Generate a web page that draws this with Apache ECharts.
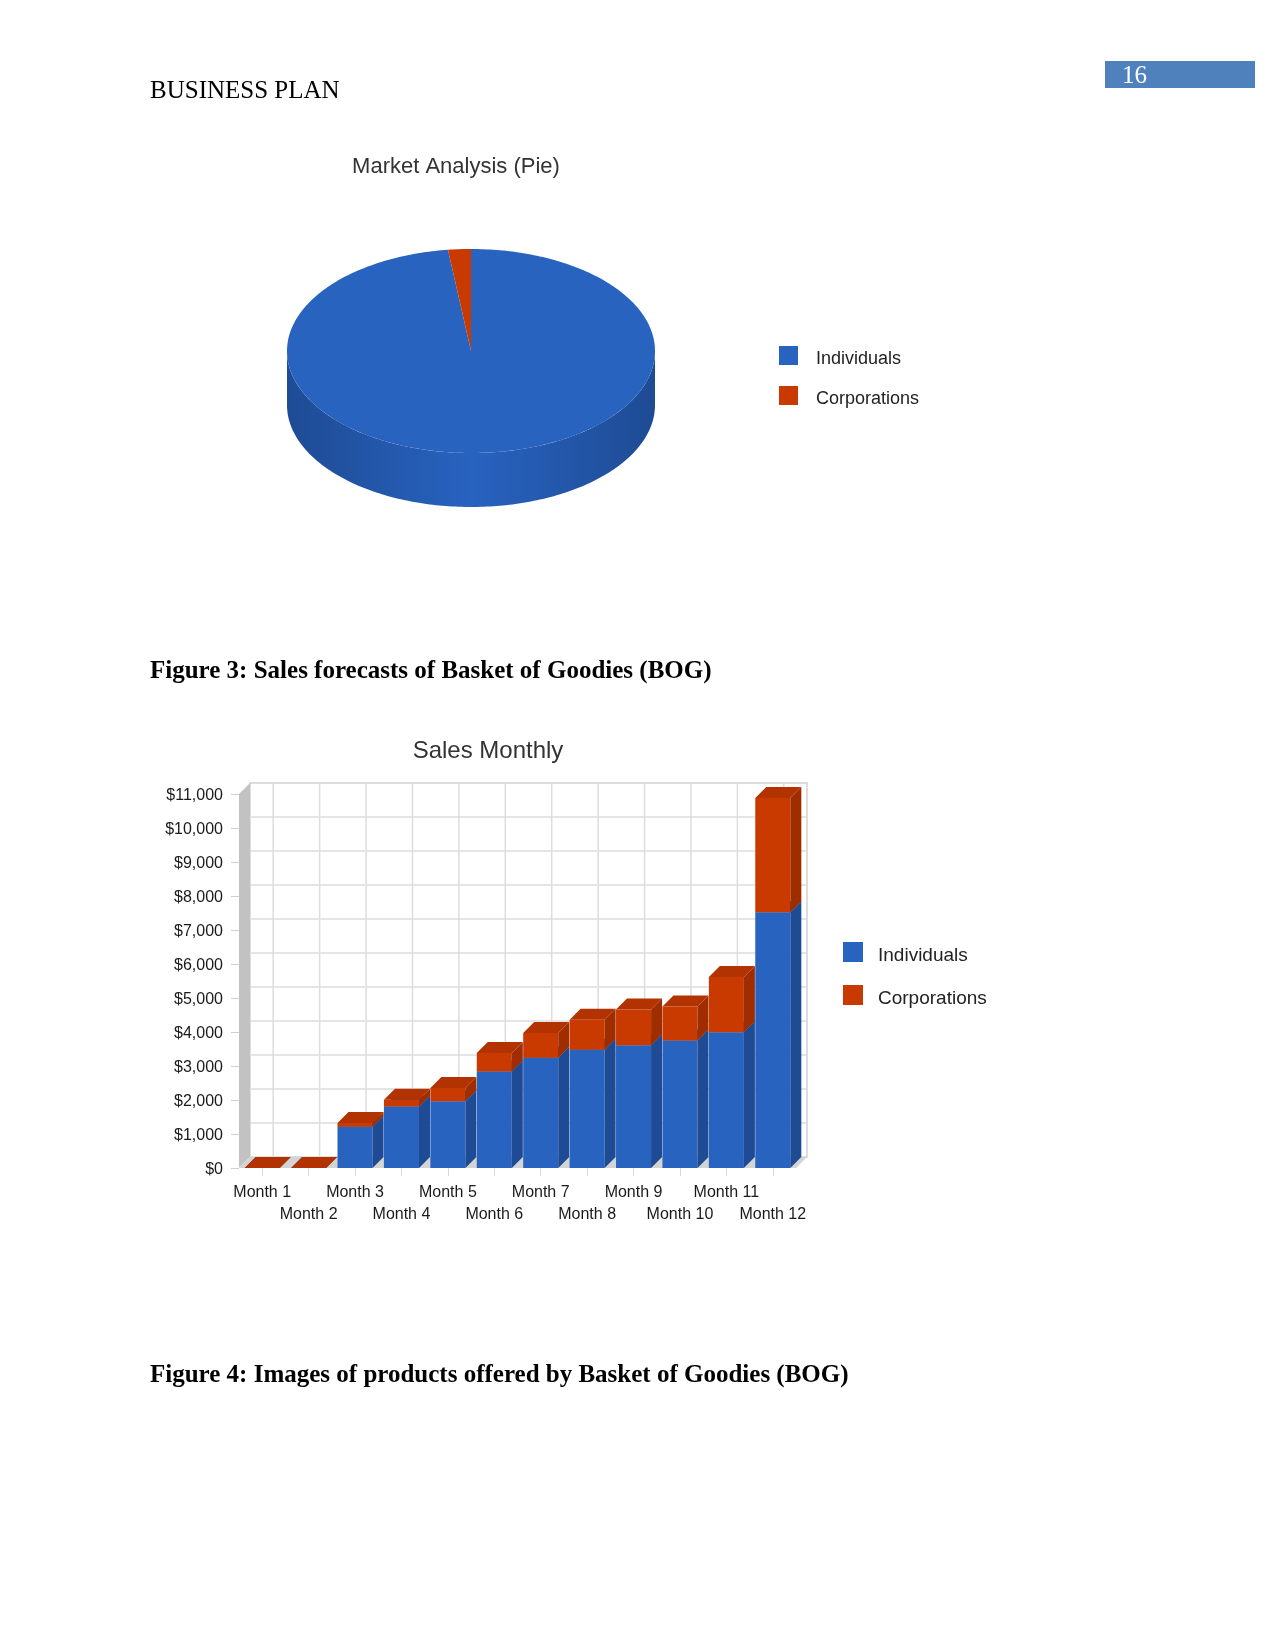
<!DOCTYPE html>
<html>
<head>
<meta charset="utf-8">
<title>Business Plan - Market Analysis and Sales Monthly</title>
<script src="https://cdn.jsdelivr.net/npm/echarts@6.0.0/dist/echarts.min.js"></script>
<style>
  html, body { margin: 0; padding: 0; background: #fff; }
  #page { width: 1275px; height: 1651px; }
</style>
</head>
<body>
<div id="page"></div>
<script>
// market analysis (pie)
const pieNames = ['Individuals', 'Corporations'];
const pieValues = [98, 2];

// sales monthly (stacked)
const months = ['Month 1', 'Month 2', 'Month 3', 'Month 4', 'Month 5', 'Month 6',
                'Month 7', 'Month 8', 'Month 9', 'Month 10', 'Month 11', 'Month 12'];
const individuals = [0, 0, 1210, 1810, 1960, 2840, 3240, 3480, 3610, 3750, 3990, 7520];
const corporations = [0, 0, 110, 200, 390, 540, 730, 880, 1050, 1000, 1630, 3360];
const yTicks = [0, 1000, 2000, 3000, 4000, 5000, 6000, 7000, 8000, 9000, 10000, 11000];

const FONT = '"Liberation Sans", Arial, sans-serif';
const SERIF = '"Liberation Serif", "Times New Roman", serif';
const BLUE = { front: '#2863c0', side: '#1e4b94', top: '#2457ad' };
const RED = { front: '#c93a00', side: '#a02d00', top: '#b33300' };
const DEPTH = 11; // 3d offset of the bar chart

// pie layout (pixels)
const pie = { cx: 471, cy: 351, rx: 184, ry: 102, depth: 54 };
const pieColors = [BLUE, RED];

function ellipsePoint(a, dy) {
    return [pie.cx + pie.rx * Math.sin(a), pie.cy - pie.ry * Math.cos(a) + dy];
}

function arc(a0, a1, dy) {
    const pts = [];
    const n = Math.max(2, Math.ceil((a1 - a0) / (Math.PI / 180)));
    for (let k = 0; k <= n; k++) {
        pts.push(ellipsePoint(a0 + (a1 - a0) * k / n, dy));
    }
    return pts;
}

// one elliptical slice with its visible front wall
function renderPie(params, api) {
    const total = pieValues.reduce((a, b) => a + b, 0);
    let before = 0;
    for (let k = 0; k < params.dataIndex; k++) before += pieValues[k];
    const a0 = before / total * Math.PI * 2;
    const a1 = (before + api.value(0)) / total * Math.PI * 2;
    const colors = pieColors[params.dataIndex];
    const children = [];
    const s = Math.max(a0, Math.PI / 2);
    const e = Math.min(a1, Math.PI * 1.5);
    if (e > s) {
        children.push({
            type: 'polygon',
            shape: { points: arc(s, e, 0).concat(arc(s, e, pie.depth).reverse()) },
            style: {
                fill: {
                    type: 'linear', global: true,
                    x: pie.cx - pie.rx, y: 0, x2: pie.cx + pie.rx, y2: 0,
                    colorStops: [
                        { offset: 0, color: colors.side },
                        { offset: 0.5, color: colors.front },
                        { offset: 1, color: colors.side }
                    ]
                }
            }
        });
    }
    children.push({
        type: 'polygon',
        shape: { points: [[pie.cx, pie.cy]].concat(arc(a0, a1, 0)) },
        style: { fill: colors.front }
    });
    return { type: 'group', children };
}

// back wall, left wall, floor and grid lines of the 3d bar chart
function renderWalls(params, api) {
    const d = DEPTH;
    const bw = api.size([1, 0])[0];
    const first = api.coord([0, yTicks[0]]);
    const last = api.coord([months.length - 1, yTicks[0]]);
    const xl = first[0] - bw / 2;
    const xr = last[0] + bw / 2;
    const yb = first[1];
    const yt = api.coord([0, yTicks[yTicks.length - 1]])[1];
    const children = [{
        type: 'rect',
        shape: { x: xl + d, y: yt - d, width: xr - xl, height: yb - yt },
        style: { fill: '#fff', stroke: '#d2d2d2', lineWidth: 1.5 }
    }];
    yTicks.slice(1, -1).forEach(v => {
        const y = api.coord([0, v])[1] - d;
        children.push({
            type: 'line',
            shape: { x1: xl + d, y1: y, x2: xr + d, y2: y },
            style: { stroke: '#dddddd', lineWidth: 1.5 }
        });
    });
    months.forEach((m, i) => {
        const x = api.coord([i, 0])[0] + d;
        children.push({
            type: 'line',
            shape: { x1: x, y1: yt - d, x2: x, y2: yb - d },
            style: { stroke: '#dddddd', lineWidth: 1.5 }
        });
    });
    children.push({
        type: 'polygon',
        shape: { points: [[xl, yt], [xl + d, yt - d], [xl + d, yb - d], [xl, yb]] },
        style: { fill: '#c2c2c2' }
    });
    children.push({
        type: 'polygon',
        shape: { points: [[xl, yb], [xl + d, yb - d], [xr + d, yb - d], [xr, yb]] },
        style: { fill: '#d4d4d4' }
    });
    return { type: 'group', children };
}

// a stacked bar segment drawn as a box
function renderBar(colors) {
    return function (params, api) {
        const i = api.value(0);
        const pLo = api.coord([i, api.value(1)]);
        const pHi = api.coord([i, api.value(2)]);
        const bw = api.size([1, 0])[0] * 0.755;
        const x0 = pLo[0] - bw / 2;
        const x1 = pLo[0] + bw / 2;
        const y0 = pLo[1];
        const y1 = pHi[1];
        const d = DEPTH;
        return {
            type: 'group',
            children: [
                { type: 'rect', shape: { x: x0, y: y1, width: bw, height: y0 - y1 }, style: { fill: colors.front } },
                { type: 'polygon', shape: { points: [[x1, y1], [x1 + d, y1 - d], [x1 + d, y0 - d], [x1, y0]] }, style: { fill: colors.side } },
                { type: 'polygon', shape: { points: [[x0, y1], [x0 + d, y1 - d], [x1 + d, y1 - d], [x1, y1]] }, style: { fill: colors.top } }
            ]
        };
    };
}

const individualsData = months.map((m, i) => [i, 0, individuals[i]]);
const corporationsData = months.map((m, i) => [i, individuals[i], individuals[i] + corporations[i]]);

const chart = echarts.init(document.getElementById('page'), null, { renderer: 'canvas' });

const option = {
    backgroundColor: '#fff',
    animation: false,
    graphic: [
        { type: 'text', x: 150, y: 91, style: { text: 'BUSINESS PLAN', font: '25px ' + SERIF, fill: '#000', verticalAlign: 'middle' } },
        { type: 'rect', shape: { x: 1105, y: 61, width: 150, height: 27 }, style: { fill: '#4f81bd' } },
        { type: 'text', x: 1122, y: 76, style: { text: '16', font: '25px ' + SERIF, fill: '#fff', verticalAlign: 'middle' } },
        { type: 'text', x: 150, y: 672, style: { text: 'Figure 3: Sales forecasts of Basket of Goodies (BOG)', font: 'bold 25px ' + SERIF, fill: '#000', verticalAlign: 'middle' } },
        { type: 'text', x: 150, y: 1376, style: { text: 'Figure 4: Images of products offered by Basket of Goodies (BOG)', font: 'bold 25px ' + SERIF, fill: '#000', verticalAlign: 'middle' } }
    ],
    title: [
        {
            text: 'Market Analysis (Pie)', left: 456, top: 156, textAlign: 'center', padding: 0,
            textStyle: { fontFamily: FONT, fontSize: 22, fontWeight: 'normal', color: '#333' }
        },
        {
            text: 'Sales Monthly', left: 488, top: 739, textAlign: 'center', padding: 0,
            textStyle: { fontFamily: FONT, fontSize: 24, fontWeight: 'normal', color: '#333' }
        }
    ],
    legend: [
        {
            // square sits at the top of a taller item so the text lines up a little lower
            data: pieNames, orient: 'vertical', left: 779, top: 346, padding: 0,
            icon: 'path://M0,0h19v19h-19zM0,25.5', itemWidth: 19, itemHeight: 25.5, itemGap: 14.5,
            textStyle: { fontFamily: FONT, fontSize: 18, color: '#222', padding: [0, 0, 0, 13] }
        },
        {
            data: pieNames, orient: 'vertical', left: 843, top: 942, padding: 0,
            icon: 'path://M0,0h20v20h-20zM0,27', itemWidth: 20, itemHeight: 27, itemGap: 16,
            textStyle: { fontFamily: FONT, fontSize: 19, color: '#222', padding: [0, 0, 0, 10] }
        }
    ],
    grid: { left: 239, right: 479, top: 794, bottom: 483, containLabel: false, outerBoundsMode: 'none' },
    xAxis: {
        type: 'category',
        data: months,
        axisLine: { show: false },
        axisTick: { show: true, alignWithLabel: true, length: 8, lineStyle: { color: '#d8d8d8' } },
        axisLabel: {
            interval: 0, margin: 14, lineHeight: 22,
            fontFamily: FONT, fontSize: 16, color: '#1a1a1a',
            formatter: (v, i) => (i % 2 ? '\n' + v : v)
        },
        splitLine: { show: false }
    },
    yAxis: {
        type: 'value',
        min: yTicks[0],
        max: yTicks[yTicks.length - 1],
        interval: yTicks[1] - yTicks[0],
        axisLine: { show: false },
        axisTick: { show: true, length: 8, lineStyle: { color: '#d0d0d0' } },
        splitLine: { show: false },
        axisLabel: {
            margin: 16, fontFamily: FONT, fontSize: 16, color: '#1a1a1a',
            verticalAlign: 'top', lineHeight: 4,
            formatter: v => '$' + String(v).replace(/\B(?=(\d{3})+(?!\d))/g, ',')
        }
    },
    series: [
        {
            name: 'Market Analysis',
            type: 'custom',
            coordinateSystem: 'none',
            renderItem: renderPie,
            data: pieValues.map((v, i) => ({ name: pieNames[i], value: v })),
            silent: true
        },
        {
            name: 'walls',
            type: 'custom',
            renderItem: renderWalls,
            data: [[0, 0]],
            encode: { x: 0, y: 1 },
            silent: true,
            z: 1
        },
        {
            name: 'Individuals',
            type: 'custom',
            renderItem: renderBar(BLUE),
            itemStyle: { color: BLUE.front },
            data: individualsData,
            encode: { x: 0, y: [1, 2] },
            z: 2
        },
        {
            name: 'Corporations',
            type: 'custom',
            renderItem: renderBar(RED),
            itemStyle: { color: RED.front },
            data: corporationsData,
            encode: { x: 0, y: [1, 2] },
            z: 3
        }
    ]
};

chart.setOption(option);
</script>
</body>
</html>
